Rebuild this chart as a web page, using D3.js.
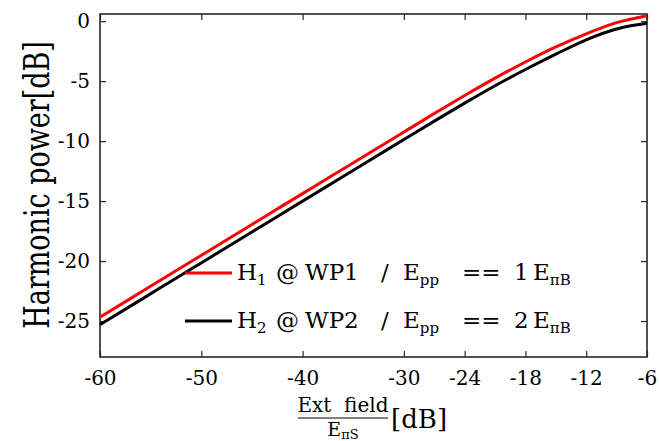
<!DOCTYPE html>
<html>
<head>
<meta charset="utf-8">
<script src="https://cdn.jsdelivr.net/npm/d3@7"></script>
<style>
  html, body { margin:0; padding:0; background:#fff; }
  svg text { font-family: "DejaVu Serif", serif; fill:#000; }
  .tick line { stroke:#262626; stroke-width:1.2; }
</style>
</head>
<body>
<svg id="chart" width="659" height="441"></svg>
<script>
// data
const extField = [-60,-57,-54,-51,-48,-45,-42,-39,-36,-33,-30,-27,-24,-21,-18,-15,-12,-9,-6];
const h1Power = [-24.67,-23.13,-21.58,-20.04,-18.49,-16.95,-15.40,-13.86,-12.32,-10.78,-9.24,-7.70,-6.20,-4.75,-3.40,-2.15,-1.05,-0.12,0.46];
const h2Power = [-25.30,-23.76,-22.21,-20.67,-19.12,-17.58,-16.03,-14.49,-12.95,-11.41,-9.87,-8.33,-6.83,-5.38,-4.03,-2.75,-1.55,-0.65,-0.18];
const xTicks = [-60,-50,-40,-30,-24,-18,-12,-6];
const yTicks = [0,-5,-10,-15,-20,-25];
const seriesColors = ['#ff0000','#000000'];

(function() {
  const svg = d3.select('#chart');
  const m = {left:100, right:647, top:14, bottom:357};

  const x = d3.scaleLinear().domain([-60,-6]).range([m.left,m.right]);
  const y = d3.scaleLinear().domain([-28,0.6]).range([m.bottom,m.top]);

  // axes, ticks pointing inwards on all four sides
  svg.append('g').attr('transform',`translate(0,${m.bottom})`)
    .call(d3.axisBottom(x).tickValues(xTicks).tickSizeInner(-6).tickSizeOuter(0).tickPadding(14).tickFormat(d=>d))
    .call(g=>g.select('.domain').remove());
  svg.append('g').attr('transform',`translate(${m.left},0)`)
    .call(d3.axisLeft(y).tickValues(yTicks).tickSizeInner(-6).tickSizeOuter(0).tickPadding(10).tickFormat(d=>d))
    .call(g=>g.select('.domain').remove());
  svg.append('g').attr('transform',`translate(0,${m.top})`)
    .call(d3.axisTop(x).tickValues(xTicks).tickSizeInner(-6).tickSizeOuter(0).tickFormat(''))
    .call(g=>g.select('.domain').remove());
  svg.append('g').attr('transform',`translate(${m.right},0)`)
    .call(d3.axisRight(y).tickValues(yTicks).tickSizeInner(-6).tickSizeOuter(0).tickFormat(''))
    .call(g=>g.select('.domain').remove());

  svg.selectAll('.tick text').attr('fill','#000')
    .style('font-family','"DejaVu Serif", serif').style('font-size','20px');

  svg.append('rect')
    .attr('x',m.left).attr('y',m.top).attr('width',m.right-m.left).attr('height',m.bottom-m.top)
    .attr('fill','none').attr('stroke','#262626').attr('stroke-width',1.6);

  // curves
  const line = d3.line().x(d=>x(d[0])).y(d=>y(d[1])).curve(d3.curveMonotoneX);
  [h1Power,h2Power].forEach((vals,i)=>{
    svg.append('path')
      .datum(extField.map((v,j)=>[v,vals[j]]))
      .attr('fill','none').attr('stroke',seriesColors[i]).attr('stroke-width',3)
      .attr('d',line);
  });

  // legend (no box)
  const legendRows = [
    [{t:'H',x:237},{t:'1',sub:true},{t:'@',x:276},{t:'WP1',x:305},{t:'/',x:381},{t:'E',x:403},{t:'pp',sub:true},{t:'==',x:462},{t:'1',x:514},{t:'E',x:533},{t:'\u03c0B',sub:true}],
    [{t:'H',x:237},{t:'2',sub:true},{t:'@',x:276},{t:'WP2',x:305},{t:'/',x:381},{t:'E',x:403},{t:'pp',sub:true},{t:'==',x:462},{t:'2',x:514},{t:'E',x:533},{t:'\u03c0B',sub:true}]
  ];
  legendRows.forEach((row,i)=>{
    const ly = 273 + i*48;
    svg.append('line').attr('x1',185).attr('x2',232).attr('y1',ly).attr('y2',ly)
      .attr('stroke',seriesColors[i]).attr('stroke-width',3);
    const t = svg.append('text').style('font-size','23px');
    row.forEach(s=>{
      const ts = t.append('tspan').text(s.t);
      if (s.x !== undefined) ts.attr('x',s.x).attr('y',ly+7);
      if (s.sub) ts.style('font-size','15px').attr('dy',5);
    });
  });

  // x label: fraction + [dB]
  svg.append('text').attr('x',343).attr('y',412).attr('text-anchor','middle')
    .style('font-size','20px').style('white-space','pre').text('Ext  field');
  svg.append('line').attr('x1',298).attr('x2',388).attr('y1',418).attr('y2',418)
    .attr('stroke','#000').attr('stroke-width',1.2);
  const den = svg.append('text').attr('x',343).attr('y',436).attr('text-anchor','middle').style('font-size','19px');
  den.append('tspan').text('E');
  den.append('tspan').text('\u03c0S').style('font-size','13px').attr('dy',3);
  svg.append('text').attr('x',391).attr('y',428).style('font-size','26px').text('[dB]');

  // y label
  svg.append('text')
    .attr('transform','translate(49,185) rotate(-90) scale(1,1.3)')
    .attr('text-anchor','middle')
    .style('font-size','27px')
    .text('Harmonic power[dB]');
})();
</script>
</body>
</html>
